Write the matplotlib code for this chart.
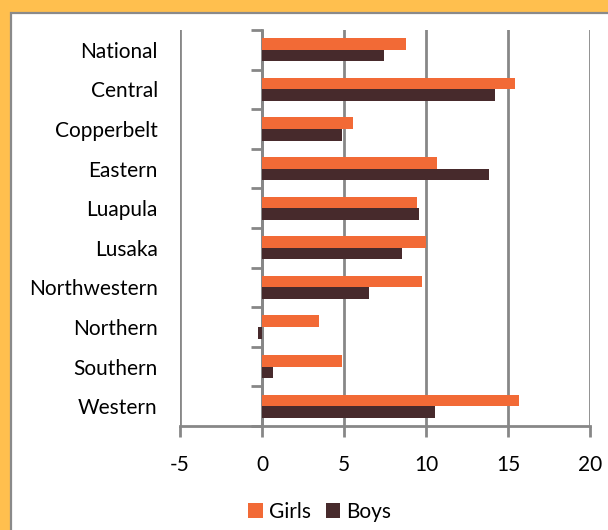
import matplotlib
matplotlib.use("Agg")
import matplotlib.pyplot as plt
import numpy as np
from matplotlib.patches import Rectangle

categories = ["National", "Central", "Copperbelt", "Eastern", "Luapula", "Lusaka",
              "Northwestern", "Northern", "Southern", "Western"]
girls = [8.8, 15.4, 5.55, 10.7, 9.45, 10.0, 9.75, 3.45, 4.9, 15.7]
boys = [7.45, 14.2, 4.9, 13.85, 9.6, 8.55, 6.5, -0.25, 0.7, 10.55]
xticks = [-5, 0, 5, 10, 15, 20]

GIRLS_C = "#F26A36"
BOYS_C = "#472A2C"
GRID_C = "#878787"
FONT = "Lato"
FS = 15

plt.rcParams['font.family'] = [FONT, 'DejaVu Sans']

fig = plt.figure(figsize=(6.08, 5.30), dpi=100)
fig.patch.set_facecolor("#FFBF4E")
W, H = 608, 530
panel = Rectangle((11 / W, -0.1), 1.2, (H - 13) / H + 0.1, transform=fig.transFigure,
                  facecolor="white", edgecolor="#8a8a8a", linewidth=1.6, zorder=-10)
fig.patches.append(panel)

ax = fig.add_axes([180 / W, 1 - 426 / H, (590 - 180) / W, (426 - 30) / H])
ax.set_facecolor("none")

n = len(categories)
y = np.arange(n)
h = 0.295
ax.barh(y - h / 2, girls, height=h, color=GIRLS_C, label="Girls", zorder=3)
ax.barh(y + h / 2, boys, height=h, color=BOYS_C, label="Boys", zorder=3)

ax.set_ylim(n - 0.5, -0.5)
ax.set_xlim(xticks[0], xticks[-1])
ax.set_xticks(xticks)
ax.set_xticklabels([str(t) for t in xticks], fontsize=FS)
ax.set_yticks(y)
ax.set_yticklabels(categories, fontsize=FS)
ax.tick_params(axis='y', length=0, pad=16)
ax.tick_params(axis='x', length=8, width=2, color=GRID_C, direction='out', pad=13)
ax.grid(axis='x', color=GRID_C, linewidth=2, zorder=1)
ax.set_axisbelow(True)
for s in ['top', 'right', 'left']:
    ax.spines[s].set_visible(False)
ax.spines['bottom'].set_color(GRID_C)
ax.spines['bottom'].set_linewidth(2)

frac0 = (0 - xticks[0]) / (xticks[-1] - xticks[0])
sec = ax.secondary_yaxis(frac0)
sec.set_yticks(np.arange(n + 1) - 0.5)
sec.set_yticklabels([])
sec.tick_params(axis='y', length=8, width=2, color=GRID_C, direction='out')
sec.spines['left'].set_color(GRID_C)
sec.spines['left'].set_linewidth(2)

leg = fig.legend(loc='center', bbox_to_anchor=(320 / W, 1 - 512 / H), ncol=2, frameon=False,
                 fontsize=FS, handlelength=0.7, handleheight=0.7, handletextpad=0.3,
                 columnspacing=0.7)

fig.savefig("out.png", dpi=100, facecolor=fig.get_facecolor())
